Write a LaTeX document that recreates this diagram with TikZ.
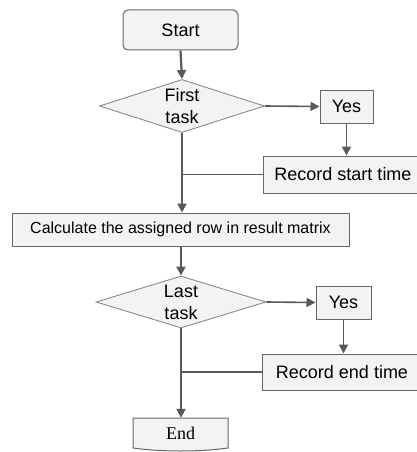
\documentclass[tikz,border=0pt]{standalone}
\usepackage{fontspec}
\setmainfont{Liberation Sans}
\newfontfamily\timesf{Liberation Serif}
\usetikzlibrary{shapes.geometric,arrows.meta,calc}
\definecolor{boxfill}{HTML}{F3F3F3}
\definecolor{boxline}{HTML}{666666}
\definecolor{dialine}{HTML}{8A8A8A}
\definecolor{conn}{HTML}{595959}
\tikzset{
  box/.style={draw=boxline, fill=boxfill, line width=1pt, inner sep=0pt, align=center,
    font=\fontsize{18}{22}\selectfont},
  smallbox/.style={box, font=\fontsize{16}{19}\selectfont},
  decide/.style={draw=dialine, fill=boxfill, line width=0.9pt, diamond, inner sep=0pt},
  dlabel/.style={font=\fontsize{18}{22}\selectfont, align=center},
  arr/.style={draw=conn, line width=1.6pt, -{Triangle[length=9pt,width=9pt]}},
  mainarr/.style={draw=conn, line width=2.2pt, -{Triangle[length=9pt,width=9pt]}},
  plain/.style={draw=conn, line width=1.6pt},
  endtxt/.style={inner sep=0pt, font=\timesf\fontsize{18}{22}\selectfont}
}
\begin{document}
\begin{tikzpicture}[x=1pt,y=-1pt]
\useasboundingbox (0,0) rectangle (417,452);
\clip (0,0) rectangle (417,452);
% nodes
\node[box, rounded corners=5pt, minimum width=115pt, minimum height=40pt] (start) at (180.5,30) {Start};
\node[decide, minimum width=165pt, minimum height=53pt,
  label={[dlabel]center:First\\task}] (first) at (182,106) {};
\node[box, minimum width=53pt, minimum height=33pt] (yes1) at (346.5,106.5) {Yes};
\node[box, minimum width=160pt, minimum height=37pt] (recstart) at (343,174.5) {Record start time};
\node[smallbox, minimum width=337pt, minimum height=33pt] (calc) at (180.5,229.5) {Calculate the assigned row in result matrix};
\node[decide, minimum width=170pt, minimum height=52pt,
  label={[dlabel]center:Last\\task}] (last) at (181,302) {};
\node[box, minimum width=55pt, minimum height=33pt] (yes2) at (343.5,302.5) {Yes};
\node[box, minimum width=160pt, minimum height=36pt] (recend) at (342,372) {Record end time};
% End terminator
\path[draw=boxline, fill=boxfill, line width=1pt]
  (133,418) -- (228,418) -- (228,448) .. controls (200,452) and (161,452) .. (133,448) -- cycle;
\node[endtxt, minimum width=95pt, minimum height=30pt] (end) at (180.5,433) {End};
% connectors
\draw[mainarr] (start.south) -- (first.north);
\draw[arr] (first.east) -- (yes1.west);
\draw[arr] (yes1.south) -- (yes1.south |- recstart.north);
\coordinate (j1) at (first.south |- recstart.west);
\draw[plain] (recstart.west) -- (j1);
\draw[mainarr] (first.south) -- (first.south |- calc.north);
\draw[mainarr] (calc.south -| last.north) -- (last.north);
\draw[arr] (last.east) -- (yes2.west);
\draw[arr] (yes2.south) -- (yes2.south |- recend.north);
\coordinate (j2) at (last.south |- recend.west);
\draw[plain] (recend.west) -- (j2);
\draw[mainarr] (last.south) -- (last.south |- end.north);
\end{tikzpicture}
\end{document}
